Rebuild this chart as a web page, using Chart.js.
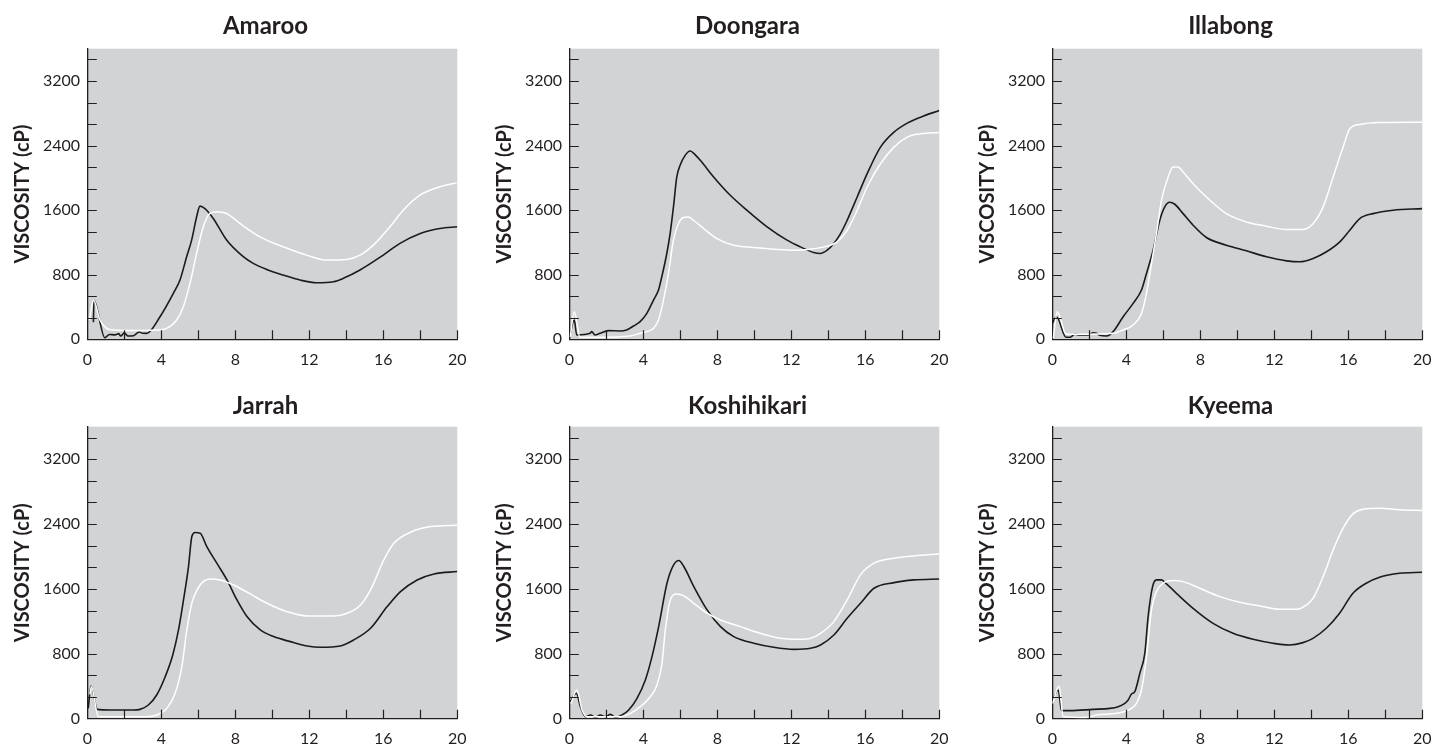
<!DOCTYPE html>
<html><head><meta charset="utf-8">
<script src="https://cdn.jsdelivr.net/npm/chart.js@4.4.1/dist/chart.umd.min.js"></script>
<style>
html,body{margin:0;padding:0;background:#fff;overflow:hidden;width:1434px;height:745px;}
canvas{position:absolute;}
</style></head><body>
<canvas id="c0"></canvas><canvas id="c1"></canvas><canvas id="c2"></canvas>
<canvas id="c3"></canvas><canvas id="c4"></canvas><canvas id="c5"></canvas>
<script>
// ---- data ----
const panelTitles = ['Amaroo', 'Doongara', 'Illabong', 'Jarrah', 'Koshihikari', 'Kyeema'];
const seriesNames = ['Black curve', 'White curve'];
const yAxisTitle = 'VISCOSITY (cP)';
const xLabelValues = [0, 4, 8, 12, 16, 20];
const xTickLabels = ['0', '4', '8', '12', '16', '20'];
const yLabelValues = [0, 800, 1600, 2400, 3200];
const yTickLabels = ['0', '800', '1600', '2400', '3200'];

const amarooBlackX = [0.33, 0.36, 0.95, 1.2, 1.5, 1.7, 1.8, 2.0, 2.2, 2.5, 2.8, 3.0, 3.21, 3.93, 4.65, 5.01, 5.37, 5.64, 5.91, 6.09, 6.36, 6.81, 7.53, 8.43, 8.97, 9.69, 10.59, 11.5, 12.4, 13.3, 13.84, 14.74, 16.0, 16.9, 18.0, 19.06, 20.0];
const amarooBlackY = [210, 480, 20, 60, 55, 70, 40, 80, 40, 45, 90, 75, 74, 280, 569, 734, 1023, 1229, 1518, 1650, 1620, 1497, 1229, 1023, 940, 866, 796, 734, 701, 713, 755, 858, 1043, 1188, 1311, 1373, 1394];
const amarooWhiteX = [0.11, 0.34, 0.68, 1.05, 1.41, 2.5, 3.75, 4.29, 4.83, 5.19, 5.55, 5.91, 6.27, 6.63, 6.99, 7.53, 8.25, 9.33, 10.59, 11.86, 12.94, 14.02, 14.74, 15.46, 16.36, 17.08, 17.98, 19.06, 19.96];
const amarooWhiteY = [240, 485, 239, 136, 115, 110, 115, 136, 239, 404, 693, 1064, 1394, 1559, 1580, 1559, 1435, 1270, 1146, 1043, 981, 990, 1043, 1167, 1394, 1600, 1786, 1889, 1938];

const doongaraBlackX = [0, 0.27, 0.4, 1.12, 1.21, 1.39, 1.66, 2.11, 2.74, 3.1, 3.47, 3.83, 4.19, 4.55, 4.82, 5.0, 5.27, 5.45, 5.63, 5.81, 5.99, 6.26, 6.53, 6.71, 7.08, 7.8, 8.7, 9.6, 10.69, 11.77, 12.49, 13.21, 13.57, 13.94, 14.3, 14.66, 15.02, 15.56, 16.1, 16.82, 17.55, 18.27, 18.99, 20.0];
const doongaraBlackY = [12, 239, 54, 74, 95, 54, 74, 107, 103, 115, 165, 218, 321, 486, 610, 775, 1063, 1310, 1640, 2011, 2155, 2278, 2332, 2307, 2217, 2011, 1784, 1599, 1393, 1228, 1145, 1075, 1063, 1104, 1187, 1310, 1475, 1763, 2052, 2381, 2567, 2678, 2752, 2835];
const doongaraWhiteX = [0.05, 0.27, 0.58, 1.48, 3.29, 3.83, 4.19, 4.55, 4.82, 5.09, 5.36, 5.63, 5.9, 6.17, 6.44, 6.71, 7.26, 7.98, 8.88, 9.96, 11.05, 12.13, 13.03, 13.94, 14.48, 15.02, 15.56, 16.1, 16.82, 17.55, 18.27, 18.99, 20.0];
const doongaraWhiteY = [30, 340, 25, 25, 41, 74, 95, 136, 239, 486, 816, 1228, 1434, 1508, 1516, 1475, 1372, 1248, 1166, 1137, 1117, 1104, 1117, 1154, 1207, 1351, 1599, 1887, 2175, 2381, 2505, 2546, 2563];

const illabongBlackX = [0, 0.23, 0.74, 0.95, 1.22, 1.49, 1.94, 2.21, 2.39, 2.57, 2.93, 3.29, 3.83, 4.37, 4.82, 5.09, 5.45, 5.81, 6.08, 6.35, 6.62, 7.07, 7.61, 8.33, 9.41, 10.49, 11.58, 12.66, 13.38, 14.1, 14.82, 15.54, 16.08, 16.62, 17.34, 18.42, 20.0];
const illabongBlackY = [198, 280, 25, 25, 62, 54, 54, 82, 74, 49, 41, 95, 280, 445, 610, 816, 1104, 1475, 1640, 1697, 1673, 1557, 1413, 1261, 1166, 1096, 1022, 972, 960, 1001, 1084, 1207, 1351, 1496, 1557, 1599, 1619];
const illabongWhiteX = [0.05, 0.27, 0.74, 1.49, 3.29, 3.83, 4.37, 4.82, 5.09, 5.36, 5.63, 5.9, 6.26, 6.53, 6.8, 7.07, 7.61, 8.33, 9.41, 10.49, 11.58, 12.66, 13.56, 14.1, 14.64, 15.18, 15.72, 16.08, 16.62, 17.7, 20.0];
const illabongWhiteY = [12, 342, 66, 62, 74, 115, 177, 321, 569, 939, 1310, 1722, 2011, 2134, 2134, 2072, 1928, 1763, 1557, 1454, 1401, 1360, 1360, 1434, 1640, 2011, 2381, 2608, 2662, 2686, 2690];

const jarrahBlackX = [0.05, 0.2, 0.54, 1.23, 2.49, 2.85, 3.3, 3.75, 4.21, 4.62, 4.93, 5.2, 5.47, 5.65, 5.83, 6.1, 6.46, 7.0, 7.55, 8.09, 8.63, 9.35, 10.07, 10.97, 11.88, 12.6, 13.68, 14.4, 15.31, 16.21, 16.93, 17.83, 18.74, 20.0];
const jarrahBlackY = [127, 403, 115, 107, 107, 115, 169, 292, 518, 786, 1094, 1464, 1876, 2246, 2295, 2287, 2122, 1917, 1711, 1464, 1259, 1094, 1012, 950, 897, 880, 897, 971, 1115, 1382, 1567, 1711, 1785, 1814];
const jarrahWhiteX = [0.14, 0.22, 0.6, 1.5, 3.21, 3.75, 4.3, 4.75, 5.11, 5.38, 5.65, 6.1, 6.64, 7.18, 7.91, 8.81, 9.71, 10.79, 11.88, 13.32, 14.04, 14.77, 15.31, 16.03, 16.57, 17.47, 18.56, 20.0];
const jarrahWhiteY = [300, 395, 25, 25, 25, 45, 127, 313, 642, 1094, 1423, 1649, 1723, 1711, 1649, 1538, 1423, 1320, 1267, 1267, 1300, 1403, 1588, 1958, 2163, 2299, 2369, 2385];

const koshihikariBlackX = [0.05, 0.38, 0.6, 0.87, 1.14, 1.41, 1.68, 1.95, 2.22, 2.49, 2.85, 3.21, 3.66, 4.11, 4.47, 4.83, 5.28, 5.64, 5.92, 6.19, 6.73, 7.45, 8.17, 8.89, 9.97, 11.05, 12.14, 13.04, 13.58, 14.3, 15.02, 15.74, 16.47, 17.55, 18.63, 20.0];
const koshihikariBlackY = [210, 313, 148, 25, 45, 16, 45, 25, 53, 16, 45, 107, 251, 477, 765, 1135, 1670, 1896, 1950, 1876, 1629, 1341, 1135, 1012, 930, 880, 855, 868, 909, 1032, 1238, 1423, 1608, 1678, 1711, 1723];
const koshihikariWhiteX = [0.09, 0.41, 0.69, 0.96, 2.76, 3.3, 3.84, 4.38, 4.74, 5.01, 5.19, 5.46, 5.82, 6.19, 6.73, 7.45, 8.17, 9.25, 10.33, 11.42, 12.5, 13.04, 13.58, 14.3, 15.02, 15.74, 16.47, 17.55, 18.63, 20.0];
const koshihikariWhiteY = [189, 354, 107, 25, 25, 66, 148, 271, 415, 683, 1094, 1464, 1538, 1514, 1423, 1300, 1217, 1135, 1053, 991, 979, 991, 1053, 1197, 1464, 1773, 1917, 1978, 2007, 2032];

const kyeemaBlackX = [0.02, 0.32, 0.5, 0.95, 2.21, 3.11, 3.56, 3.92, 4.1, 4.28, 4.46, 4.73, 5.0, 5.18, 5.42, 5.63, 5.9, 6.17, 6.71, 7.61, 8.69, 9.77, 10.85, 11.93, 12.83, 13.55, 14.09, 14.81, 15.53, 16.25, 16.97, 17.69, 18.77, 20.0];
const kyeemaBlackY = [230, 354, 99, 99, 115, 127, 148, 189, 230, 304, 333, 559, 806, 1259, 1629, 1711, 1711, 1662, 1546, 1361, 1176, 1053, 979, 930, 909, 938, 991, 1115, 1300, 1546, 1670, 1744, 1793, 1806];
const kyeemaWhiteX = [0.02, 0.36, 0.59, 1.85, 2.39, 3.47, 4.19, 4.55, 4.82, 5.09, 5.36, 5.63, 5.99, 6.53, 7.07, 7.97, 9.05, 10.13, 11.22, 12.29, 13.19, 13.74, 14.1, 14.64, 15.18, 15.72, 16.25, 16.79, 17.69, 18.77, 20.0];
const kyeemaWhiteY = [189, 403, 25, 16, 45, 66, 115, 189, 354, 765, 1341, 1567, 1670, 1703, 1690, 1608, 1505, 1435, 1390, 1349, 1349, 1403, 1485, 1752, 2081, 2349, 2525, 2583, 2595, 2575, 2566];

const blackSeriesX = [amarooBlackX, doongaraBlackX, illabongBlackX, jarrahBlackX, koshihikariBlackX, kyeemaBlackX];
const blackSeriesY = [amarooBlackY, doongaraBlackY, illabongBlackY, jarrahBlackY, koshihikariBlackY, kyeemaBlackY];
const whiteSeriesX = [amarooWhiteX, doongaraWhiteX, illabongWhiteX, jarrahWhiteX, koshihikariWhiteX, kyeemaWhiteX];
const whiteSeriesY = [amarooWhiteY, doongaraWhiteY, illabongWhiteY, jarrahWhiteY, koshihikariWhiteY, kyeemaWhiteY];

// ---- layout / style ----
const INK = '#231f20';
const PANEL_BG = '#d1d3d4';
const FONT = 'Lato, "Noto Sans", sans-serif';
const colLeft = [0, 482, 965];
const rowCfg = [
  {top: 0, h: 370, plotBottom: 339.3, tPadTop: 11.6, tPadBottom: 8.3},
  {top: 378, h: 367, plotBottom: 340.7, tPadTop: 13.4, tPadBottom: 6.5}
];
const CANVAS_W = 531;
const PLOT_LEFT = 87.3, PLOT_RIGHT = 457.3;

const bgPlugin = {
  id: 'panelBg',
  beforeDraw(chart) {
    const {ctx, chartArea: a} = chart;
    ctx.save();
    ctx.fillStyle = PANEL_BG;
    ctx.fillRect(a.left, a.top, a.right - a.left, a.bottom - a.top);
    ctx.restore();
  }
};
const innerTicksPlugin = {
  id: 'innerTicks',
  afterDatasetsDraw(chart) {
    const {ctx, chartArea: a, scales} = chart;
    ctx.save();
    ctx.strokeStyle = INK;
    ctx.lineWidth = 1.2;
    ctx.beginPath();
    scales.x.ticks.forEach(t => {
      if (t.value <= 0) return;
      const px = Math.round(scales.x.getPixelForValue(t.value)) + 0.5;
      ctx.moveTo(px, a.bottom);
      ctx.lineTo(px, a.bottom - 9);
    });
    scales.y.ticks.forEach(t => {
      if (t.value <= 0) return;
      const py = Math.round(scales.y.getPixelForValue(t.value)) + 0.5;
      ctx.moveTo(a.left, py);
      ctx.lineTo(a.left + 9.5, py);
    });
    ctx.stroke();
    ctx.restore();
  }
};

function labelFor(values, labels, v) {
  const i = values.findIndex(t => Math.abs(t - v) < 1e-3);
  return i >= 0 ? labels[i] : '';
}
function pts(xs, ys) { return xs.map((x, i) => ({x: x, y: ys[i]})); }

panelTitles.forEach((name, p) => {
  const row = rowCfg[Math.floor(p / 3)];
  const cv = document.getElementById('c' + p);
  cv.width = CANVAS_W; cv.height = row.h;
  cv.style.left = colLeft[p % 3] + 'px';
  cv.style.top = row.top + 'px';
  cv.style.width = CANVAS_W + 'px';
  cv.style.height = row.h + 'px';
  new Chart(cv, {
    type: 'line',
    data: {
      datasets: [
        {label: seriesNames[1], data: pts(whiteSeriesX[p], whiteSeriesY[p]), borderColor: '#ffffff', borderWidth: 1.5, pointRadius: 0, cubicInterpolationMode: 'monotone', fill: false},
        {label: seriesNames[0], data: pts(blackSeriesX[p], blackSeriesY[p]), borderColor: '#1b1b1b', borderWidth: 1.6, pointRadius: 0, cubicInterpolationMode: 'monotone', fill: false}
      ]
    },
    options: {
      responsive: false, animation: false, devicePixelRatio: 1,
      layout: {padding: 0},
      plugins: {
        legend: {display: false},
        tooltip: {enabled: false},
        title: {display: true, text: name, color: INK, font: {family: FONT, size: 24, weight: 'bold'}, padding: {top: row.tPadTop, bottom: row.tPadBottom}}
      },
      scales: {
        x: {
          type: 'linear', min: 0, max: 20,
          grid: {display: false, drawTicks: false},
          border: {display: true, color: INK, width: 1.3},
          ticks: {stepSize: 2, autoSkip: false, maxRotation: 0, padding: 10.5, color: INK, font: {family: FONT, size: 16},
            callback: v => labelFor(xLabelValues, xTickLabels, v)},
          afterFit: s => { s.height = row.h - row.plotBottom; }
        },
        y: {
          type: 'linear', min: 0, max: 3600,
          grid: {display: false, drawTicks: false},
          border: {display: true, color: INK, width: 1.3},
          ticks: {stepSize: 800 / 3, includeBounds: false, autoSkip: false, padding: 7.3, color: INK, font: {family: FONT, size: 16},
            callback: v => labelFor(yLabelValues, yTickLabels, v)},
          title: {display: true, text: yAxisTitle, color: INK, font: {family: FONT, size: 20, weight: 'bold'}, padding: {top: 11, bottom: 0}},
          afterFit: s => { s.width = PLOT_LEFT; }
        },
        yR: {
          type: 'linear', position: 'right', display: true,
          grid: {display: false, drawTicks: false}, border: {display: false},
          ticks: {display: false},
          afterFit: s => { s.width = CANVAS_W - PLOT_RIGHT; }
        }
      }
    },
    plugins: [bgPlugin, innerTicksPlugin]
  });
});
</script>
</body></html>
